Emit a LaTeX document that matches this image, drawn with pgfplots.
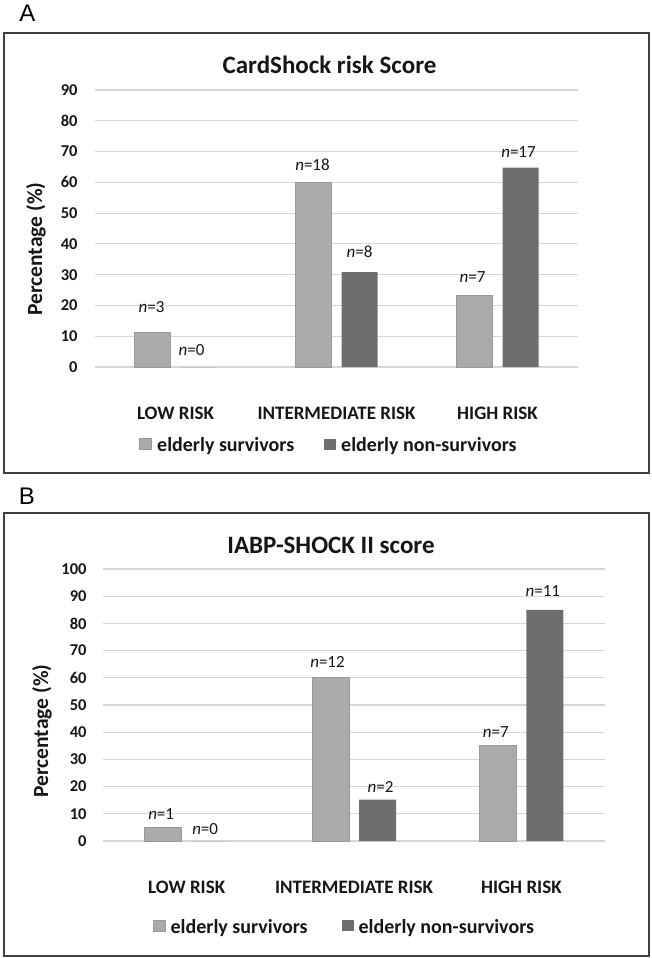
\documentclass[border=0pt]{standalone}
\usepackage{fontspec}
\setmainfont{Carlito}
\newfontfamily\labfont{Liberation Sans}
\usepackage{pgfplots}
\pgfplotsset{compat=1.18}
\usepackage{pgfplotstable}

\definecolor{surv}{HTML}{ABABAB}
\definecolor{survedge}{HTML}{999999}
\definecolor{nonsurv}{HTML}{6E6E6E}
\definecolor{gridc}{HTML}{D6D6D6}
\definecolor{framec}{HTML}{404040}
\definecolor{txt}{HTML}{161616}

% CardShock: x, value, n, label shifts
\pgfplotstableread{
x y n dx dy
0 11.1 3 -1 26
1 60.0 18 -1 18
2 23.2 7 -2 19
}\survA
\pgfplotstableread{
x y n dx dy
0 0 0 -7 17
1 30.8 8 0 20
2 64.8 17 -2 16
}\nonsurvA
% IABP-SHOCK II
\pgfplotstableread{
x y n dx dy
0 5 1 -2 13
1 60 12 -3 16
2 35 7 -2 14
}\survB
\pgfplotstableread{
x y n dx dy
0 0 0 -5 12
1 15.2 2 3 13
2 85 11 -2 19
}\nonsurvB

\pgfplotsset{
  nlabels/.style={
    point meta=explicit symbolic,
    nodes near coords={\textit{n}=\pgfplotspointmeta},
    visualization depends on={\thisrow{dy} \as \dy},
    visualization depends on={\thisrow{dx} \as \dx},
    every node near coord/.append style={font=\fontsize{17bp}{20bp}\selectfont, text=txt, anchor=center, yshift=\dy bp, xshift=\dx bp},
  },
  sqlegend/.style={
    legend image code/.code={\fill[##1] (0bp,-4.5bp) rectangle (12bp,6.5bp); \path (15bp,0bp);}
  },
}

\begin{document}
\begin{tikzpicture}[x=1bp,y=1bp]
\useasboundingbox (0,0) rectangle (652,-958);
% frames
\draw[framec, line width=1.5bp] (4,-33) rectangle (649,-473);
\draw[framec, line width=1.5bp] (4,-513) rectangle (649,-956);
% panel letters
\node[font=\labfont\fontsize{24bp}{28bp}\selectfont, text=black] at (27.5,-13.5) {A};
\node[font=\labfont\fontsize{24bp}{28bp}\selectfont, text=black] at (27,-496.5) {B};
% titles
\node[font=\fontsize{25bp}{30bp}\selectfont\bfseries, text=txt] at (329.5,-65) {CardShock risk Score};
\node[font=\fontsize{25bp}{30bp}\selectfont\bfseries, text=txt] at (331,-545) {IABP-SHOCK II score};
% y labels
\node[font=\fontsize{21.5bp}{26bp}\selectfont\bfseries, text=txt, rotate=90] at (36,-249) {Percentage (\%)};
\node[font=\fontsize{21.5bp}{26bp}\selectfont\bfseries, text=txt, rotate=90] at (42,-731) {Percentage (\%)};

% ---------- Panel A ----------
\begin{axis}[
  at={(95bp,-367bp)}, anchor=south west,
  scale only axis, width=483bp, height=277bp,
  ybar, xmin=-0.5, xmax=2.5, ymin=0, ymax=90,
  ytick={0,10,...,90},
  xtick={0,1,2}, xticklabels={LOW RISK,INTERMEDIATE RISK,HIGH RISK},
  ymajorgrids, grid style={draw=gridc, line width=1.2bp},
  axis line style={draw=none}, tick style={draw=none}, major tick length=0pt,
  /pgf/number format/assume math mode=true,
  yticklabel style={font=\fontsize{16.5bp}{18bp}\selectfont\bfseries, anchor=east, xshift=-14bp, text=txt},
  xticklabel style={font=\fontsize{19bp}{22bp}\selectfont\bfseries, anchor=center, yshift=-46bp, text=txt},
  clip=false,
  legend columns=2,
  legend style={at={(0.4845,-0.2816)}, anchor=center, draw=none, fill=none,
    font=\fontsize{20bp}{24bp}\selectfont\bfseries, text=txt,
    /tikz/every even column/.append style={column sep=28bp}},
]
\addplot[fill=surv, draw=survedge, line width=0.8bp, bar width=36bp, bar shift=-23bp, nlabels, sqlegend]
  table[x=x, y=y, meta=n] {\survA};
\addlegendentry{elderly survivors}
\addplot[fill=nonsurv, draw=none, bar width=36bp, bar shift=23bp, nlabels, sqlegend]
  table[x=x, y=y, meta=n] {\nonsurvA};
\addlegendentry{elderly non-survivors}
\end{axis}

% ---------- Panel B ----------
\begin{axis}[
  at={(103bp,-841bp)}, anchor=south west,
  scale only axis, width=502bp, height=272bp,
  ybar, xmin=-0.5, xmax=2.5, ymin=0, ymax=100,
  ytick={0,10,...,100},
  xtick={0,1,2}, xticklabels={LOW RISK,INTERMEDIATE RISK,HIGH RISK},
  ymajorgrids, grid style={draw=gridc, line width=1.2bp},
  axis line style={draw=none}, tick style={draw=none}, major tick length=0pt,
  /pgf/number format/assume math mode=true,
  yticklabel style={font=\fontsize{16.5bp}{18bp}\selectfont\bfseries, anchor=east, xshift=-13bp, text=txt},
  xticklabel style={font=\fontsize{19bp}{22bp}\selectfont\bfseries, anchor=center, yshift=-46bp, text=txt},
  clip=false,
  legend columns=2,
  legend style={at={(0.481,-0.316)}, anchor=center, draw=none, fill=none,
    font=\fontsize{20bp}{24bp}\selectfont\bfseries, text=txt,
    /tikz/every even column/.append style={column sep=32bp}},
]
\addplot[fill=surv, draw=survedge, line width=0.8bp, bar width=37bp, bar shift=-23.5bp, nlabels, sqlegend]
  table[x=x, y=y, meta=n] {\survB};
\addlegendentry{elderly survivors}
\addplot[fill=nonsurv, draw=none, bar width=37bp, bar shift=23.5bp, nlabels, sqlegend]
  table[x=x, y=y, meta=n] {\nonsurvB};
\addlegendentry{elderly non-survivors}
\end{axis}
\end{tikzpicture}
\end{document}
